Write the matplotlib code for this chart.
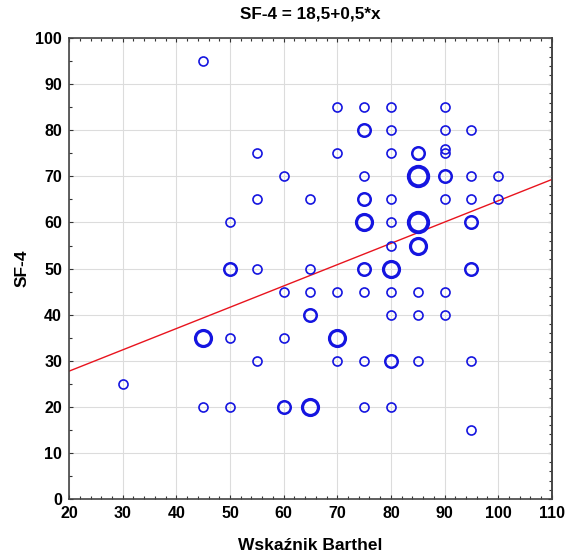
import numpy as np
import matplotlib.pyplot as plt
from matplotlib.ticker import MultipleLocator, NullFormatter

plt.rcParams['font.family'] = ['Liberation Sans', 'DejaVu Sans']

# Barthel index vs SF-4, with number of cases per point
barthel = [30, 45, 45, 45, 50, 50, 50, 50, 55, 55, 55, 55,
           60, 60, 60, 60, 65, 65, 65, 65, 65,
           70, 70, 70, 70, 70,
           75, 75, 75, 75, 75, 75, 75, 75, 75,
           80, 80, 80, 80, 80, 80, 80, 80, 80, 80, 80,
           85, 85, 85, 85, 85, 85, 85,
           90, 90, 90, 90, 90, 90, 90, 90,
           95, 95, 95, 95, 95, 95, 95,
           100, 100]
sf4 = [25, 95, 35, 20, 60, 50, 35, 20, 75, 65, 50, 30,
       70, 45, 35, 20, 65, 50, 45, 40, 20,
       85, 75, 45, 35, 30,
       85, 80, 70, 65, 60, 50, 45, 30, 20,
       85, 80, 75, 65, 60, 55, 50, 45, 40, 30, 20,
       75, 70, 60, 55, 45, 40, 30,
       85, 80, 76, 75, 70, 65, 40, 45,
       80, 70, 60, 50, 30, 15, 65,
       70, 65]
counts = [1, 1, 3, 1, 1, 2, 1, 1, 1, 1, 1, 1,
          1, 1, 1, 2, 1, 1, 1, 2, 3,
          1, 1, 1, 3, 1,
          1, 2, 1, 2, 3, 2, 1, 1, 1,
          1, 1, 1, 1, 1, 1, 3, 1, 1, 2, 1,
          2, 4, 4, 3, 1, 1, 1,
          1, 1, 1, 1, 2, 1, 1, 1,
          1, 1, 2, 2, 1, 1, 1,
          1, 1]

intercept = 18.5
slope = 0.462

fig = plt.figure(figsize=(5.66, 5.56), dpi=100)
ax = fig.add_axes([0.122, 0.1025, 0.853, 0.829])

sizes = {1: 6.5, 2: 9, 3: 11.5, 4: 14}
widths = {1: 1.2, 2: 1.8, 3: 2.3, 4: 2.8}
for c in sorted(sizes):
    xs = [b for b, k in zip(barthel, counts) if k == c]
    ys = [s for s, k in zip(sf4, counts) if k == c]
    ax.plot(xs, ys, 'o', ms=sizes[c], mfc='none', mec='#1515e0',
            mew=widths[c], zorder=3, clip_on=False)

xl = np.array([20, 110])
ax.plot(xl, intercept + slope * xl, color='#e8141e', lw=1.0, zorder=2)

ax.set_xlim(20, 110)
ax.set_ylim(0, 100)
ax.xaxis.set_major_locator(MultipleLocator(10))
ax.xaxis.set_minor_locator(MultipleLocator(2))
ax.yaxis.set_major_locator(MultipleLocator(10))
ax.yaxis.set_minor_locator(MultipleLocator(5))
ax.grid(True, which='major', color='#dcdcdc', lw=0.8)
ax.set_axisbelow(True)
ax.tick_params(which='both', direction='in', top=True, right=False,
               labelsize=11.5, color='#333333', pad=5)
ax.tick_params(which='major', length=3, width=0.8)
ax.tick_params(which='minor', length=2, width=0.8)
for lab in ax.get_xticklabels() + ax.get_yticklabels():
    lab.set_fontweight('bold')

right = ax.secondary_yaxis('right')
right.yaxis.set_major_locator(MultipleLocator(10))
right.yaxis.set_minor_locator(MultipleLocator(2))
right.yaxis.set_major_formatter(NullFormatter())
right.tick_params(which='both', direction='in', color='#333333', width=0.8)
right.tick_params(which='major', length=3)
right.tick_params(which='minor', length=2)

for sp in list(ax.spines.values()) + [right.spines['right']]:
    sp.set_color('#444444')
    sp.set_linewidth(1.2)

ax.set_xlabel('Wskaźnik Barthel', fontsize=12.5, fontweight='bold', labelpad=12)
ax.set_ylabel('SF-4', fontsize=12.5, fontweight='bold', labelpad=4)
ax.set_title('SF-4 = 18,5+0,5*x', fontsize=12.3, fontweight='bold', pad=14)

fig.savefig('out.png', dpi=100)
